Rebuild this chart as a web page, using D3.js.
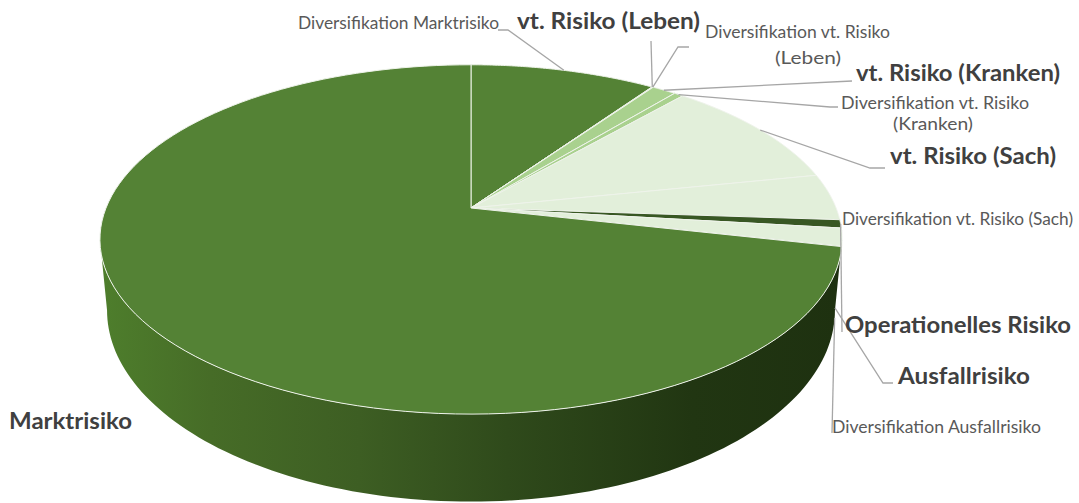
<!DOCTYPE html>
<html>
<head>
<meta charset="utf-8">
<script src="https://cdn.jsdelivr.net/npm/d3@7/dist/d3.min.js"></script>
<style>
  html, body { margin: 0; background: #fff; }
  text { font-family: Lato, "Open Sans", sans-serif; }
</style>
</head>
<body>
<svg id="chart" width="1079" height="503"></svg>
<script>
// slices clockwise from 12 o'clock, shares in percent
let categories = [
  "Diversifikation Marktrisiko", "vt. Risiko (Leben)", "Diversifikation vt. Risiko (Leben)",
  "vt. Risiko (Kranken)", "Diversifikation vt. Risiko (Kranken)", "vt. Risiko (Sach)",
  "Diversifikation vt. Risiko (Sach)", "Operationelles Risiko", "Ausfallrisiko",
  "Diversifikation Ausfallrisiko", "Marktrisiko"
]
let shares = [9.64, 0.03, 0.03, 1.25, 0.48, 10.36, 4.3, 0.76, 1.64, 0.03, 71.48]
let slice_colors = [
  "#548235", "#a9d18e", "#a9d18e", "#a9d18e", "#a9d18e", "#e2efda",
  "#e2efda", "#385723", "#e2efda", "#548235", "#548235"
]

// label placement, one row per category
let label_layout = [
  {lines: ["Diversifikation Marktrisiko"], x: 298, y: [29], w: [201], bold: false,
    rim: "top", elbow: [[508, 30], [498, 30]]},
  {lines: ["vt. Risiko (Leben)"], x: 517, y: [29], w: [183], bold: true,
    rim: "top", elbow: [[651, 41]]},
  {lines: ["Diversifikation vt. Risiko", "(Leben)"], x: 705, y: [38, 64], w: [185, 66], dx: [0, 70], bold: false,
    rim: "top", elbow: [[678, 47], [689, 47]]},
  {lines: ["vt. Risiko (Kranken)"], x: 856, y: [81], w: [204], bold: true,
    rim: "top", elbow: [[852, 81]]},
  {lines: ["Diversifikation vt. Risiko", "(Kranken)"], x: 841, y: [109, 130], w: [188, 80], dx: [0, 52], bold: false,
    rim: "top", elbow: [[830, 107], [838, 107]]},
  {lines: ["vt. Risiko (Sach)"], x: 890, y: [164], w: [166], bold: true,
    rim: "top", elbow: [[870, 168], [885, 168]]},
  {lines: ["Diversifikation vt. Risiko (Sach)"], x: 842, y: [225], w: [231], bold: false,
    rim: null, elbow: []},
  {lines: ["Operationelles Risiko"], x: 845, y: [333], w: [226], bold: true,
    rim: "top", elbow: [[842, 332]]},
  {lines: ["Ausfallrisiko"], x: 898, y: [384], w: [132], bold: true,
    rim: "bottom", elbow: [[883, 383], [893, 383]]},
  {lines: ["Diversifikation Ausfallrisiko"], x: 832, y: [433], w: [209], bold: false,
    rim: "bottom", elbow: [[832, 433]]},
  {lines: ["Marktrisiko"], x: 9, y: [429], w: [123], bold: true,
    rim: null, elbow: []}
]

// perspective of the disc: the far side shrinks, so the hub sits above the ellipse centre
let tilt = 0.18
let top_rim = {cx: 471, cy: 208, a: 365, b: 169}
let bottom_rim = {cx: 471, cy: 276, a: 358, b: 185}

function project(rim, angle, r = 1) {
  let w = 1 + tilt * r * Math.cos(angle)
  return [
    rim.cx + rim.a * r * Math.sin(angle) / w,
    rim.cy - rim.b * r * Math.cos(angle) / w
  ]
}

function rim_points(rim, from, to) {
  return d3.range(0, 121).map(i => project(rim, from + (to - from) * i / 120))
}

function draw_wall(svg) {
  let edge = Math.acos(-tilt)
  let grad = svg.append("defs").append("linearGradient")
    .attr("id", "wall_fill")
    .attr("gradientUnits", "userSpaceOnUse")
    .attr("x1", 100).attr("x2", 840).attr("y1", 0).attr("y2", 0)
  let stops = [[0, "#4e7e2c"], [0.15, "#466c27"], [0.35, "#3d5e23"], [0.55, "#2f4a1b"], [0.8, "#213612"], [1, "#1e3110"]]
  grad.selectAll("stop").data(stops).enter().append("stop")
    .attr("offset", d => d[0])
    .attr("stop-color", d => d[1])

  // right tangent round the front to the left tangent
  let outline = rim_points(top_rim, edge, 2 * Math.PI - edge)
    .concat(rim_points(bottom_rim, 2 * Math.PI - edge, edge))
  svg.append("path")
    .attr("d", d3.line()(outline) + "Z")
    .attr("fill", "url(#wall_fill)")
}

function draw_slices(svg, arcs, fill) {
  svg.append("g").selectAll("path")
    .data(arcs).enter()
    .append("path")
    .attr("d", d => d3.line()([[top_rim.cx, top_rim.cy]].concat(rim_points(top_rim, d.startAngle, d.endAngle))) + "Z")
    .attr("fill", d => fill(d.data.name))
    .attr("stroke", "#eef3ea")
    .attr("stroke-width", 1)
    .attr("stroke-linejoin", "round")
}

function draw_labels(svg, arcs) {
  let rims = {top: top_rim, bottom: bottom_rim}
  let leaders = arcs.filter(d => d.data.layout.rim)
  svg.append("g").selectAll("path")
    .data(leaders).enter()
    .append("path")
    .attr("d", d => {
      let mid = (d.startAngle + d.endAngle) / 2
      return d3.line()([project(rims[d.data.layout.rim], mid)].concat(d.data.layout.elbow))
    })
    .attr("fill", "none")
    .attr("stroke", "#a6a6a6")
    .attr("stroke-width", 1.3)

  arcs.forEach(d => {
    let l = d.data.layout
    l.lines.forEach((line, i) => {
      svg.append("text")
        .attr("x", l.x + (l.dx ? l.dx[i] : 0))
        .attr("y", l.y[i])
        .attr("textLength", l.w[i])
        .attr("lengthAdjust", "spacingAndGlyphs")
        .attr("font-size", l.bold ? 23 : 17)
        .attr("font-weight", l.bold ? 700 : 400)
        .attr("fill", l.bold ? "#404040" : "#595959")
        .text(line)
    })
  })
}

function visualize() {
  let svg = d3.select("#chart")
  let table = categories.map((name, i) => ({name: name, share: shares[i], layout: label_layout[i]}))
  let fill = d3.scaleOrdinal().domain(categories).range(slice_colors)
  let arcs = d3.pie().sort(null).value(d => d.share)(table)
  draw_wall(svg)
  draw_slices(svg, arcs, fill)
  draw_labels(svg, arcs)
}

visualize()
</script>
</body>
</html>
